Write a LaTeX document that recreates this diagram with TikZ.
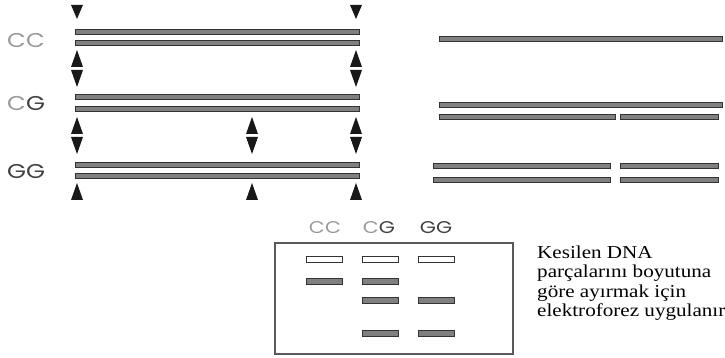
\documentclass[tikz,border=0pt]{standalone}
\usepackage{fontspec}
\setmainfont{Liberation Serif}
\newfontfamily\geofont[FakeStretch=1.22]{Poppins}
\newfontfamily\capfont[FakeStretch=1.16]{Liberation Serif}
\begin{document}
\begin{tikzpicture}[x=1pt,y=-1pt,
  strand/.style={draw=black!80,fill=black!50,line width=0.9pt},
  band/.style={draw=black!80,fill=black!50,line width=0.9pt},
  blank/.style={draw=black!80,fill=white,line width=0.9pt},
  pale/.style={text=black!40},
  deep/.style={text=black!75},
  tag/.style={font=\geofont\fontsize{20}{20}\selectfont,inner sep=0pt},
  lane/.style={font=\geofont\fontsize{17}{17}\selectfont,inner sep=0pt},
  cuttip/.style={fill=black!90}]
\useasboundingbox (0,0) rectangle (725,358);

% genotype labels
\node[tag,pale,anchor=west] (cc) at (7,40.5) {CC};
\node[tag,anchor=west] (cg) at (7,104) {\textcolor{black!40}{C}\textcolor{black!75}{G}};
\node[tag,deep,anchor=west] (gg) at (7,172) {GG};

% uncut double strands
\foreach \y in {31.5,43, 97,108.5, 164.5,175.5}
  \filldraw[strand] (75,\y-2.5) rectangle (359,\y+2.5);

% restriction sites: down and up pointers
\newcommand\tipdown[3]{\fill[cuttip] (#1-6,#2) -- (#1+6,#2) -- (#1,#3) -- cycle;}
\newcommand\tipup[3]{\fill[cuttip] (#1-6,#3) -- (#1+6,#3) -- (#1,#2) -- cycle;}
\foreach \x in {77,356} {
  \tipdown{\x}{5}{19}
  \tipup{\x}{50}{67}
  \tipdown{\x}{70}{87}
}
\foreach \x in {77,252,356} {
  \tipup{\x}{117}{134}
  \tipdown{\x}{137}{154}
  \tipup{\x}{183}{200}
}

% fragments after digestion
\filldraw[strand] (439,36) rectangle (722,41);
\filldraw[strand] (439,102) rectangle (722,107);
\filldraw[strand] (439,114.5) rectangle (615,119.5);
\filldraw[strand] (620,114.5) rectangle (718,119.5);
\filldraw[strand] (433,163) rectangle (610,168);
\filldraw[strand] (620,163) rectangle (718,168);
\filldraw[strand] (433,177) rectangle (610,182);
\filldraw[strand] (620,177) rectangle (718,182);

% gel
\draw[black!65,line width=1.2pt] (275,243) rectangle (513,354);
\node[lane,pale] (lcc) at (325,228) {CC};
\node[lane] (lcg) at (379,228) {\textcolor{black!40}{C}\textcolor{black!75}{G}};
\node[lane,deep] (lgg) at (436,228) {GG};

\foreach \x in {324.5,380,436.5}
  \filldraw[blank] (\x-18,256.5) rectangle (\x+18,262);
\foreach \x/\y in {324.5/281.5, 380/281.5, 380/300, 436.5/300, 380/333.5, 436.5/333.5}
  \filldraw[band] (\x-18,\y-3) rectangle (\x+18,\y+3);

% caption
\node[anchor=north west,align=left,inner sep=0pt,
      font=\capfont\fontsize{18.2}{19.3}\selectfont,text=black] (note) at (537,245.6)
  {Kesilen DNA\\parçalarını boyutuna\\göre ayırmak için\\elektroforez uygulanır};
\end{tikzpicture}
\end{document}
